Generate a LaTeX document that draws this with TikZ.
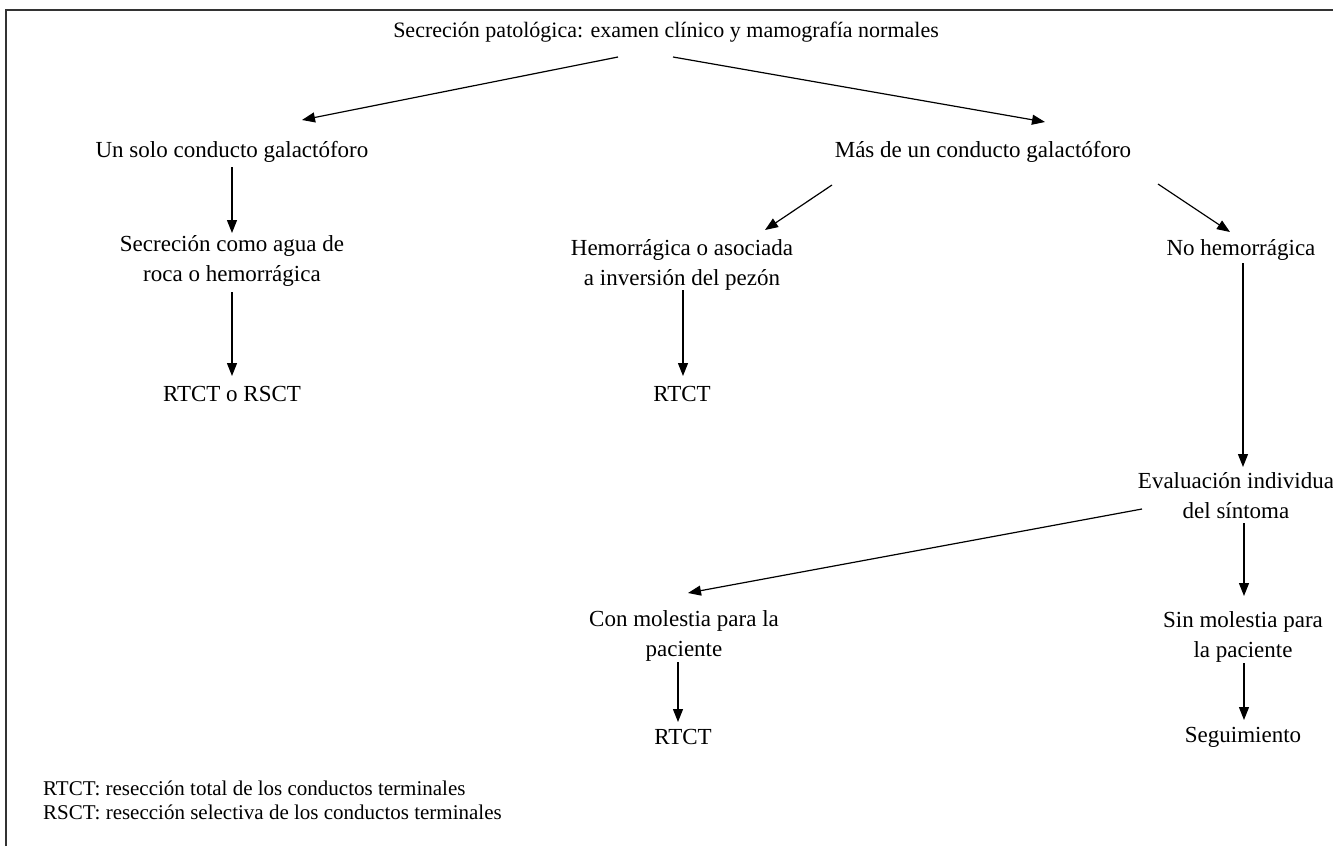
\documentclass[tikz,border=0pt]{standalone}
\usepackage{fontspec}
\setmainfont{Liberation Serif}
\usetikzlibrary{arrows.meta,calc}
\tikzset{%
	txt/.style   = {align=center, inner sep=0pt, font=\fontsize{23}{30}\selectfont},
	head/.style  = {txt, font=\fontsize{22}{30}\selectfont},
	note/.style  = {align=left, anchor=west, inner sep=0pt, font=\fontsize{21}{24}\selectfont},
	arrow/.style = {line width=1.2pt, -{Triangle[length=13pt,width=10pt]}},
	frame/.style = {line width=2pt, draw=black!80},
}
\begin{document}
\begin{tikzpicture}[x=1pt,y=-1pt]
	\useasboundingbox (0,0) rectangle (1333,846);
	\draw[frame] (6,846) -- (6,10) -- (1333,10);
	
	% nodes
	\node[head] (title) at (666,32)   {Secreción patológica: examen clínico y mamografía normales};
	\node[txt] (uno)    at (232,152)  {Un solo conducto galactóforo};
	\node[txt] (mas)    at (983,152)  {Más de un conducto galactóforo};
	\node[txt] (secr)   at (232,261)  {Secreción como agua de\\roca o hemorrágica};
	\node[txt] (hemo)   at (682,265)  {Hemorrágica o asociada\\a inversión del pezón};
	\node[txt] (nohemo) at (1241,250) {No hemorrágica};
	\node[txt] (rtcto)  at (232,394)  {RTCT o RSCT};
	\node[txt] (rtcta)  at (682,394)  {RTCT};
	\node[txt] (eval)   at (1236,496) {Evaluación individua\\del síntoma};
	\node[txt] (con)    at (684,636)  {Con molestia para la\\paciente};
	\node[txt] (sin)    at (1243,637) {Sin molestia para\\la paciente};
	\node[txt] (rtctb)  at (683,737)  {RTCT};
	\node[txt] (seg)    at (1243,737) {Seguimiento};
	\node[note] (legend) at (43,800) {RTCT: resección total de los conductos terminales\\RSCT: resección selectiva de los conductos terminales};
	
	% connectors
	\draw[arrow] ([shift={(-48,25)}]title.center) -- ([shift={(70,-32)}]uno.center);
	\draw[arrow] ([shift={(7,25)}]title.center) -- ([shift={(62,-30)}]mas.center);
	\draw[arrow] ([shift={(0,15)}]uno.center) -- ([shift={(0,-28)}]secr.center);
	\draw[arrow] ([shift={(0,31)}]secr.center) -- ([shift={(0,-18)}]rtcto.center);
	\draw[arrow] ([shift={(-151,33)}]mas.center) -- ([shift={(83,-35)}]hemo.center);
	\draw[arrow] ([shift={(175,32)}]mas.center) -- ([shift={(-11,-18)}]nohemo.center);
	\draw[arrow] ([shift={(1,25)}]hemo.center) -- ([shift={(1,-18)}]rtcta.center);
	\draw[arrow] ([shift={(2,13)}]nohemo.center) -- ([shift={(7,-29)}]eval.center);
	\draw[arrow] ([shift={(-94,13)}]eval.center) -- ([shift={(4,-43)}]con.center);
	\draw[arrow] ([shift={(8,27)}]eval.center) -- ([shift={(1,-41)}]sin.center);
	\draw[arrow] ([shift={(-6,26)}]con.center) -- ([shift={(-5,-15)}]rtctb.center);
	\draw[arrow] ([shift={(1,26)}]sin.center) -- ([shift={(1,-17)}]seg.center);
	
\end{tikzpicture}
\end{document}
